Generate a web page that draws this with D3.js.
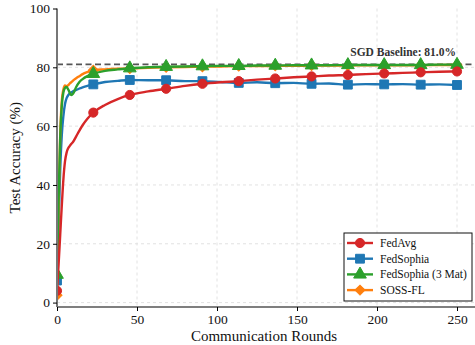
<!DOCTYPE html>
<html>
<head>
<meta charset="utf-8">
<script src="https://cdn.jsdelivr.net/npm/d3@7"></script>
<style>
  html, body { margin: 0; padding: 0; background: #ffffff; }
  svg { display: block; font-family: "Liberation Serif", "DejaVu Serif", serif; }
</style>
</head>
<body>
<div id="chart"></div>
<script>
// data
const rounds = [0, 1, 2, 3, 4, 5, 6, 7, 8, 9, 10, 12, 14, 16, 19, 22.7, 30, 38, 45.5, 57, 68.2, 80, 90.9, 102,
  113.6, 125, 136.4, 148, 159.1, 170, 181.8, 193, 204.5, 216, 227.3, 239, 250];
const markerRounds = [0, 22.7, 45.5, 68.2, 90.9, 113.6, 136.4, 159.1, 181.8, 204.5, 227.3, 250];

const fedAvg = [4, 13, 23, 33, 42, 48, 51, 52.5, 53.3, 54, 54.6, 56.5, 58.5, 60.3, 62.5, 64.6, 67.2, 69.2, 70.6, 71.8,
  72.7, 73.7, 74.4, 74.9, 75.3, 75.8, 76.2, 76.6, 76.9, 77.2, 77.4, 77.7, 77.9, 78.1, 78.3, 78.5, 78.6];
const fedSophia = [7.5, 26, 45, 57, 63.5, 67.5, 69.5, 70.5, 71.1, 71.5, 71.8, 72.3, 72.8, 73.2, 73.7, 74.2, 75, 75.4,
  75.7, 75.6, 75.6, 75.3, 75.3, 75.0, 74.7, 74.9, 74.6, 74.7, 74.4, 74.5, 74.1, 74.3, 74.2, 74.3, 74.1, 74.2, 74.0];
const fedSophia3 = [9.5, 35, 56, 67, 71.5, 73, 73.3, 72.5, 71.3, 70.6, 71, 73.3, 75, 76, 77, 77.8, 78.8, 79.3, 79.7,
  80, 80.2, 80.3, 80.4, 80.5, 80.5, 80.6, 80.6, 80.7, 80.7, 80.7, 80.8, 80.8, 80.8, 80.8, 80.8, 80.9, 80.9];
const sossFl = [2.5, 32, 57, 68.5, 72.5, 73.8, 73.6, 73.9, 74.5, 75, 75.5, 76.3, 77, 77.7, 78.4, 79, 79.3, 79.5, 79.6,
  79.8, 80, 80.1, 80.2, 80.3, 80.4, 80.4, 80.5, 80.5, 80.6, 80.6, 80.6, 80.7, 80.7, 80.7, 80.7, 80.8, 80.8];

const sgdBaseline = 81.0;
const xTicks = [0, 50, 100, 150, 200, 250];
const yTicks = [0, 20, 40, 60, 80, 100];

// legend order; drawing order is set separately below
const series = [
  { name: 'FedAvg', values: fedAvg, color: '#d62728', marker: 'circle' },
  { name: 'FedSophia', values: fedSophia, color: '#1f77b4', marker: 'square' },
  { name: 'FedSophia (3 Mat)', values: fedSophia3, color: '#2ca02c', marker: 'triangle' },
  { name: 'SOSS-FL', values: sossFl, color: '#ff7f0e', marker: 'diamond' },
];
const drawOrder = ['FedSophia', 'SOSS-FL', 'FedSophia (3 Mat)', 'FedAvg'];

const W = 475, H = 345;
const margin = { top: 8.5, right: 0, bottom: 38, left: 57 };

const svg = d3.select('#chart').append('svg')
  .attr('width', W)
  .attr('height', H);

const x = d3.scaleLinear().domain([0, 262.5]).range([margin.left, margin.left + 420]);
const y = d3.scaleLinear().domain([-1.5, 100]).range([H - margin.bottom, margin.top]);

svg.append('defs').append('clipPath').attr('id', 'plot-clip')
  .append('rect')
  .attr('x', x(0)).attr('y', y(100))
  .attr('width', W - x(0)).attr('height', y(-1.5) - y(100));

// grid
const grid = svg.append('g');
grid.selectAll('.gx').data(xTicks.slice(1)).enter().append('line')
  .attr('x1', d => x(d)).attr('x2', d => x(d))
  .attr('y1', y(100)).attr('y2', y(-1.5))
  .attr('stroke', '#e2e2e2').attr('stroke-width', 1).attr('stroke-dasharray', '3,3');
grid.selectAll('.gy').data(yTicks.slice(0, -1)).enter().append('line')
  .attr('x1', x(0)).attr('x2', W)
  .attr('y1', d => y(d)).attr('y2', d => y(d))
  .attr('stroke', '#e2e2e2').attr('stroke-width', 1).attr('stroke-dasharray', '3,3');

// baseline
svg.append('line')
  .attr('x1', x(0)).attr('x2', W)
  .attr('y1', y(sgdBaseline)).attr('y2', y(sgdBaseline))
  .attr('stroke', '#555').attr('stroke-width', 1.6).attr('stroke-dasharray', '6,3.5');
svg.append('text')
  .attr('x', x(250) - 1).attr('y', y(sgdBaseline) - 8)
  .attr('text-anchor', 'end')
  .attr('font-size', '11.5px').attr('font-weight', 'bold').attr('fill', '#333')
  .text(`SGD Baseline: ${sgdBaseline.toFixed(1)}%`);

function markerPath(kind) {
  if (kind === 'circle') return d3.symbol(d3.symbolCircle, 66)();
  if (kind === 'square') return d3.symbol(d3.symbolSquare, 78)();
  if (kind === 'triangle') return d3.symbol(d3.symbolTriangle, 70)();
  return d3.symbol(d3.symbolSquare, 50)();
}

const line = d3.line()
  .x(d => x(d[0]))
  .y(d => y(d[1]))
  .curve(d3.curveMonotoneX);

const plot = svg.append('g').attr('clip-path', 'url(#plot-clip)');

drawOrder.forEach(name => {
  const s = series.find(d => d.name === name);
  const pts = rounds.map((r, i) => [r, s.values[i]]);
  plot.append('path')
    .datum(pts)
    .attr('fill', 'none')
    .attr('stroke', s.color)
    .attr('stroke-width', 2.4)
    .attr('stroke-linejoin', 'round')
    .attr('d', line);
  plot.selectAll(null)
    .data(pts.filter(p => markerRounds.includes(p[0])))
    .enter().append('path')
    .attr('transform', p => `translate(${x(p[0])},${y(p[1])})` + (s.marker === 'diamond' ? ' rotate(45)' : ''))
    .attr('d', markerPath(s.marker))
    .attr('fill', s.color)
    .attr('stroke', s.color)
    .attr('stroke-width', 1);
});

// axes
const xAxis = svg.append('g')
  .attr('transform', `translate(0,${y(-1.5)})`)
  .call(d3.axisBottom(x).tickValues(xTicks).tickSize(4).tickPadding(3));
xAxis.select('.domain').attr('stroke', '#000').attr('stroke-width', 1.2).attr('d', `M${x(0)},0H${W}`);
xAxis.selectAll('text').attr('font-size', '13.5px').attr('fill', '#111')
  .attr('font-family', '"Liberation Serif", serif');

const yAxis = svg.append('g')
  .attr('transform', `translate(${x(0)},0)`)
  .call(d3.axisLeft(y).tickValues(yTicks).tickSize(4).tickPadding(3));
yAxis.select('.domain').attr('stroke', '#777').attr('stroke-width', 2)
  .attr('d', `M0,${y(100)}V${y(-1.5)}`);
yAxis.selectAll('text').attr('font-size', '13.5px').attr('fill', '#111')
  .attr('font-family', '"Liberation Serif", serif');

// axis titles
svg.append('text')
  .attr('x', (x(0) + W) / 2 - 2).attr('y', H - 4)
  .attr('text-anchor', 'middle')
  .attr('font-size', '15px').attr('fill', '#111')
  .text('Communication Rounds');
svg.append('text')
  .attr('transform', `translate(20,${(y(100) + y(-1.5)) / 2}) rotate(-90)`)
  .attr('text-anchor', 'middle')
  .attr('font-size', '15px').attr('fill', '#111')
  .text('Test Accuracy (%)');

// legend
const legend = svg.append('g').attr('transform', 'translate(344,233)');
legend.append('rect')
  .attr('width', 128).attr('height', 68)
  .attr('fill', '#fff').attr('stroke', '#111').attr('stroke-width', 1);
series.forEach((s, i) => {
  const row = legend.append('g').attr('transform', `translate(0,${10 + i * 15.7})`);
  row.append('line')
    .attr('x1', 3).attr('x2', 29)
    .attr('stroke', s.color).attr('stroke-width', 2.4);
  row.append('path')
    .attr('transform', 'translate(16,0)' + (s.marker === 'diamond' ? ' rotate(45)' : ''))
    .attr('d', markerPath(s.marker))
    .attr('fill', s.color).attr('stroke', s.color);
  row.append('text')
    .attr('x', 36).attr('y', 4)
    .attr('font-size', '11.5px').attr('fill', '#111')
    .text(s.name);
});
</script>
</body>
</html>
